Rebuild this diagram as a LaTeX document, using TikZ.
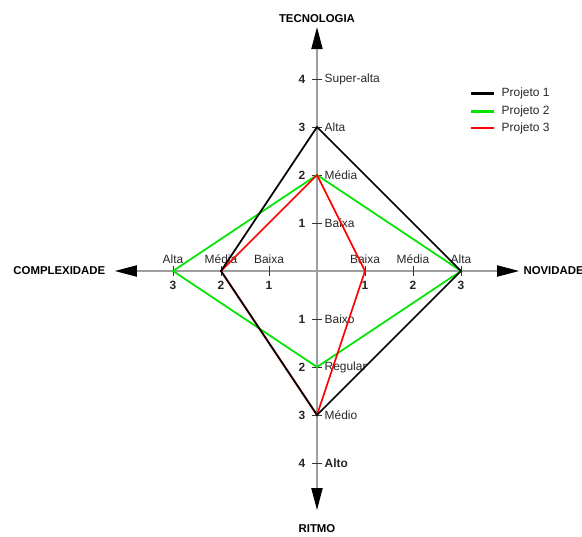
\documentclass[tikz,border=0pt]{standalone}
\usepackage{fontspec}
\setmainfont{Liberation Sans}
\usetikzlibrary{arrows.meta,positioning,calc}

\begin{document}
\begin{tikzpicture}[
		x=1.2cm, y=1.2cm,
		every node/.style={
				font=\fontsize{8.5}{10}\selectfont,
				text=black!85,
				inner sep=1pt
			},
		eixo/.style={
				draw=gray!75, line width=1pt,
				{Triangle[length=0.55cm,width=0.28cm,color=black]}-{Triangle[length=0.55cm,width=0.28cm,color=black]}
			},
		marca/.style={draw=black!80, line width=0.5pt},
		titulo/.style={font=\bfseries\fontsize{8.1}{10}\selectfont, text=black},
		numero/.style={font=\bfseries\fontsize{8.5}{10}\selectfont, text=black!85},
		projeto1/.style={draw=black, line width=1.2pt, line join=miter},
		projeto2/.style={draw=green!90!black, line width=1.2pt},
		projeto3/.style={draw=red, line width=1.2pt}
	]
	\useasboundingbox (-6.604,-5.521) rectangle (5.521,5.646);

	% eixos
	\coordinate (centro) at (0,0);
	\coordinate (topo) at (0,5.08);
	\coordinate (base) at (0,-4.98);
	\coordinate (esq) at (-4.21,0);
	\coordinate (dir) at (4.21,0);
	\draw[eixo] (base) -- (topo);
	\draw[eixo] (esq) -- (dir);

	\node[titulo, above=0.07cm of topo] (tecnologia) {TECNOLOGIA};
	\node[titulo, below=0.33cm of base] (ritmo) {RITMO};
	\node[titulo, left=0.2cm of esq] (complexidade) {COMPLEXIDADE};
	\node[titulo, right=0.07cm of dir] (novidade) {NOVIDADE};

	% marcas
	\foreach \i in {1,...,4} {
			\coordinate (T\i) at (0,\i);
			\coordinate (R\i) at (0,-\i);
			\draw[marca] (-0.1,\i) -- (0.1,\i);
			\draw[marca] (-0.1,-\i) -- (0.1,-\i);
			\node[numero, left=0.25cm of T\i] {\i};
			\node[numero, left=0.25cm of R\i] {\i};
		}
	\foreach \i in {1,2,3} {
			\coordinate (N\i) at (\i,0);
			\coordinate (C\i) at (-\i,0);
			\draw[marca] (\i,-0.1) -- (\i,0.1);
			\draw[marca] (-\i,-0.1) -- (-\i,0.1);
			\node[numero, below=0.22cm of N\i] {\i};
			\node[numero, below=0.22cm of C\i] {\i};
		}

	\foreach \i/\rotulo in {1/Baixa,2/Média,3/Alta,4/Super-alta}
	\node[right=0.15cm of T\i] {\rotulo};
	\foreach \i/\rotulo in {1/Baixo,2/Regular,3/Médio}
	\node[right=0.15cm of R\i] {\rotulo};
	\node[numero, right=0.15cm of R4] {Alto};
	\foreach \i/\rotulo in {1/Baixa,2/Média,3/Alta} {
			\node[above=0.15cm of N\i] {\rotulo};
			\node[above=0.15cm of C\i] {\rotulo};
		}

	% projetos
	\draw[projeto2] (T2) -- (N3) -- (R2) -- (C3) -- cycle;
	\draw[projeto3] (T2) -- (N1) -- (R3) -- (C2) -- cycle;
	\draw[projeto1] (T3) -- (N3) -- (R3) -- (C2) -- cycle;

	% legenda
	\coordinate (leg1) at (3.21,3.69);
	\coordinate (leg2) at (3.21,3.33);
	\coordinate (leg3) at (3.21,2.98);
	\draw[projeto1, line width=2pt] (leg1) -- ++(0.48,0) node[right=0.12cm] {Projeto 1};
	\draw[projeto2, line width=2pt] (leg2) -- ++(0.48,0) node[right=0.12cm] {Projeto 2};
	\draw[projeto3, line width=2pt] (leg3) -- ++(0.48,0) node[right=0.12cm] {Projeto 3};
\end{tikzpicture}
\end{document}
